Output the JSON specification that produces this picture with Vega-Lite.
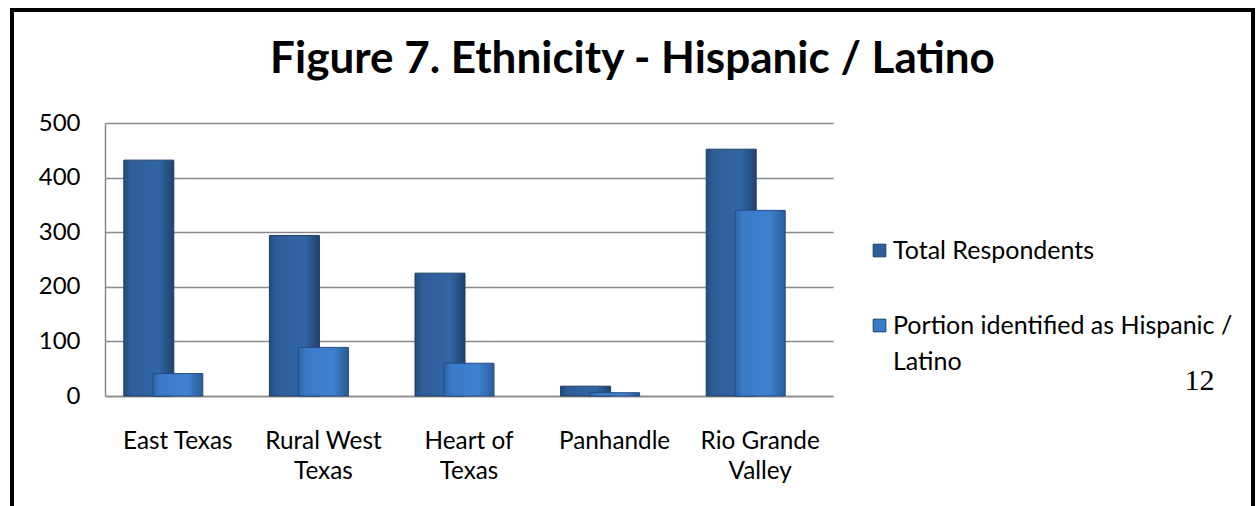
{
  "$schema": "https://vega.github.io/schema/vega-lite/v6.json",
  "width": 1241,
  "height": 498,
  "autosize": {"type": "none"},
  "padding": {"left": 12, "top": 10, "right": 3, "bottom": 0},
  "background": "white",
  "config": {
    "view": {"stroke": "black", "strokeWidth": 4},
    "font": "Lato"
  },
  "title": {
    "text": "Figure 7. Ethnicity - Hispanic / Latino",
    "font": "Lato",
    "fontSize": 44,
    "fontWeight": "bold",
    "color": "black",
    "anchor": "middle",
    "frame": "group",
    "baseline": "alphabetic",
    "offset": -107
  },
  "data": {
    "values": [
      {"region": "East Texas", "series": "Total Respondents", "value": 432},
      {"region": "East Texas", "series": "Portion identified as Hispanic / Latino", "value": 41},
      {"region": "Rural West Texas", "series": "Total Respondents", "value": 294},
      {"region": "Rural West Texas", "series": "Portion identified as Hispanic / Latino", "value": 89},
      {"region": "Heart of Texas", "series": "Total Respondents", "value": 225},
      {"region": "Heart of Texas", "series": "Portion identified as Hispanic / Latino", "value": 60},
      {"region": "Panhandle", "series": "Total Respondents", "value": 18},
      {"region": "Panhandle", "series": "Portion identified as Hispanic / Latino", "value": 6},
      {"region": "Rio Grande Valley", "series": "Total Respondents", "value": 452},
      {"region": "Rio Grande Valley", "series": "Portion identified as Hispanic / Latino", "value": 340}
    ]
  },
  "encoding": {
    "x": {
      "field": "region",
      "type": "nominal",
      "sort": null,
      "scale": {"range": [93, 821], "paddingInner": 0, "paddingOuter": 0},
      "axis": {
        "title": "12",
        "titleFont": "Liberation Serif",
        "titleFontSize": 30,
        "titleFontWeight": "normal",
        "titleColor": "black",
        "titleX": 1187,
        "titleY": -7,
        "titleAlign": "center",
        "titleBaseline": "alphabetic",
        "labelAngle": 0,
        "ticks": false,
        "labelPadding": 33,
        "labelFont": "Lato",
        "labelFontSize": 24.3,
        "labelColor": "black",
        "labelLineHeight": 30,
        "labelExpr": "datum.label == 'Rural West Texas' ? ['Rural West', 'Texas'] : datum.label == 'Heart of Texas' ? ['Heart of', 'Texas'] : datum.label == 'Rio Grande Valley' ? ['Rio Grande', 'Valley'] : datum.label",
        "domainColor": "#8a8a8a",
        "domainWidth": 1.5,
        "offset": -112
      }
    },
    "y": {
      "field": "value",
      "type": "quantitative",
      "scale": {"domain": [0, 500], "range": [386, 113]},
      "axis": {
        "values": [0, 100, 200, 300, 400, 500],
        "title": null,
        "offset": -93,
        "ticks": false,
        "labelPadding": 25,
        "labelFont": "Lato",
        "labelFontSize": 24,
        "labelColor": "black",
        "domainColor": "#8a8a8a",
        "domainWidth": 1.5,
        "gridColor": "#8a8a8a",
        "gridWidth": 1.5
      }
    },
    "color": {
      "field": "series",
      "type": "nominal",
      "scale": {
        "domain": ["Total Respondents", "Portion identified as Hispanic / Latino"],
        "range": ["#2E5E99", "#3A7BC8"]
      },
      "legend": {
        "title": null,
        "orient": "none",
        "legendX": 855,
        "legendY": 228,
        "symbolType": "square",
        "symbolSize": 160,
        "symbolStrokeColor": "#1E3E66",
        "symbolStrokeWidth": 1,
        "labelFont": "Lato",
        "labelFontSize": 25,
        "labelColor": "black",
        "labelLimit": 420,
        "labelOffset": 1,
        "rowPadding": 49,
        "labelExpr": "datum.label == 'Portion identified as Hispanic / Latino' ? ['Portion identified as Hispanic /', 'Latino'] : datum.label",
        "encode": {"labels": {"update": {"lineHeight": {"value": 36}}}}
      }
    }
  },
  "layer": [
    {
      "transform": [{"filter": "datum.series == 'Total Respondents'"}],
      "mark": {
        "type": "bar",
        "width": 50,
        "xOffset": -29,
        "stroke": "#1E3E66",
        "strokeWidth": 1,
        "fill": {
          "gradient": "linear",
          "x1": 0, "x2": 1, "y1": 0, "y2": 0,
          "stops": [
            {"offset": 0, "color": "#244C7F"},
            {"offset": 0.15, "color": "#2E5E99"},
            {"offset": 0.7, "color": "#3366A5"},
            {"offset": 1, "color": "#1F426F"}
          ]
        }
      }
    },
    {
      "transform": [{"filter": "datum.series == 'Portion identified as Hispanic / Latino'"}],
      "mark": {
        "type": "bar",
        "width": 50,
        "xOffset": 0,
        "stroke": "#234E85",
        "strokeWidth": 1,
        "fill": {
          "gradient": "linear",
          "x1": 0, "x2": 1, "y1": 0, "y2": 0,
          "stops": [
            {"offset": 0, "color": "#2D64A6"},
            {"offset": 0.15, "color": "#3A7BC8"},
            {"offset": 0.7, "color": "#3E81CF"},
            {"offset": 1, "color": "#2A5B98"}
          ]
        }
      }
    }
  ]
}
